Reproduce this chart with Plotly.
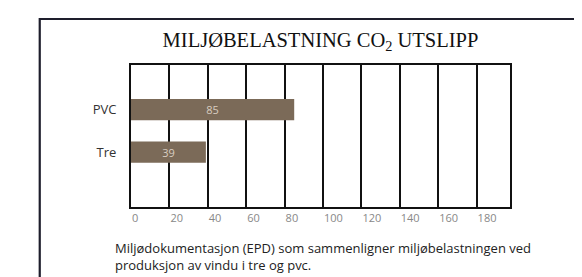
import plotly.graph_objects as go

categories = ["Tre", "PVC"]
values = [39, 85]
x_ticks = [0, 20, 40, 60, 80, 100, 120, 140, 160, 180]
title_text = "MILJØBELASTNING CO<sub>2</sub> UTSLIPP"
caption_lines = ["Miljødokumentasjon (EPD) som sammenligner miljøbelastningen ved",
                 "produksjon av vindu i tre og pvc."]

W, H = 582, 277
L, R, T, B = 122.5, 502.5, 57, 199
pw, ph = R - L, B - T

def px(x):
    return (x - L) / pw

def py(y):
    return (B - y) / ph

fig = go.Figure()
fig.add_trace(go.Bar(
    y=categories, x=values, orientation="h",
    marker=dict(color="#7b6a58", line=dict(width=0)),
    width=0.5,
    text=[str(v) for v in values],
    textposition="inside", insidetextanchor="middle",
    textfont=dict(family="Open Sans", size=11, color="#d8cdc0"),
    hoverinfo="skip",
))

fig.update_layout(
    width=W, height=H, autosize=False,
    margin=dict(l=L, r=W - R, t=T, b=H - B, pad=0),
    paper_bgcolor="white", plot_bgcolor="white",
    showlegend=False,
    title=dict(text=title_text, x=(L + R) / 2 / W, xanchor="center",
               y=1 - 32 / H, yanchor="middle",
               font=dict(family="Liberation Serif", size=20.5, color="#111")),
    xaxis=dict(range=[0, 197.4], tickvals=x_ticks, showgrid=True,
               gridcolor="#111", gridwidth=1.6, zeroline=False,
               showline=True, linecolor="#111", linewidth=2, mirror=True,
               ticks="", ticklabelposition="outside right",
               tickfont=dict(family="Open Sans", size=11, color="#888")),
    yaxis=dict(type="category", categoryorder="array", categoryarray=categories,
               range=[-1.29, 2.05], showgrid=False, zeroline=False,
               showline=True, linecolor="#111", linewidth=2, mirror=True,
               ticks="", ticklabelstandoff=10,
               tickfont=dict(family="Open Sans", size=13, color="#333")),
)

# outer frame (top and left edges)
x0, x1 = px(31), px(600)
y0, y1 = py(11), py(300)
fig.add_shape(type="path", xref="paper", yref="paper",
              path=f"M {x1},{y0} L {x0},{y0} L {x0},{y1}",
              line=dict(color="#1e1e2c", width=2.2))

fig.add_annotation(text="<br>".join(caption_lines), xref="paper", yref="paper",
                   x=px(104), y=py(229), xanchor="left", yanchor="top",
                   align="left", showarrow=False,
                   font=dict(family="Open Sans", size=13, color="#222"))

fig.write_html("out.html")
